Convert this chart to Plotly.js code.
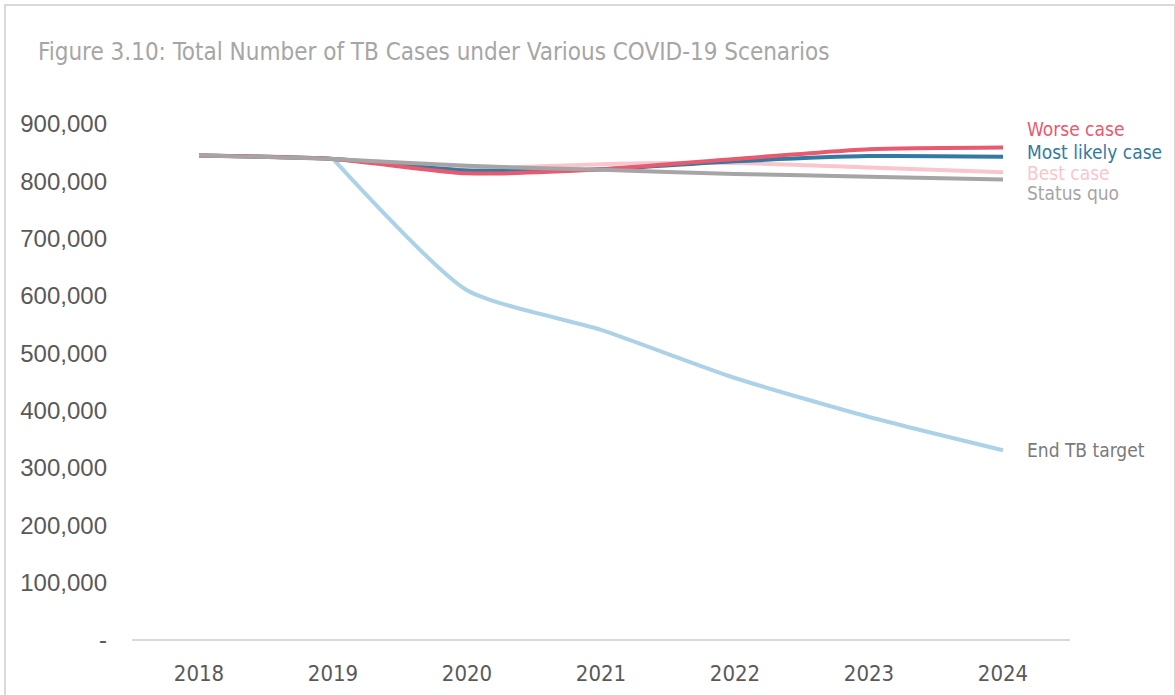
<!DOCTYPE html>
<html>
<head>
<meta charset="utf-8">
<script src="https://cdn.plot.ly/plotly-3.0.1.min.js"></script>
<style>
  html, body { margin: 0; padding: 0; background: #ffffff; overflow: hidden; }
  #chart { width: 1175px; height: 695px; }
  #frame { position: absolute; left: 4px; top: 4px; width: 1172px; height: 700px;
           border: 2px solid #d9d9d9; box-sizing: border-box; pointer-events: none; }
</style>
</head>
<body>
<div id="chart"></div>
<div id="frame"></div>
<script>
// ---- data ----
const years = ["2018", "2019", "2020", "2021", "2022", "2023", "2024"];
const endTB      = [null, 839000, 610000, 541000, 457000, 389000, 331000];
const bestCase   = [845000, 839000, 823000, 830000, 832000, 824000, 816000];
const likelyCase = [845000, 839000, 819000, 821000, 835000, 844000, 843000];
const worseCase  = [845000, 839000, 814000, 821000, 839000, 856000, 859000];
const statusQuo  = [845000, 839000, 827000, 820000, 813000, 808000, 803000];

const seriesNames = ["End TB target", "Best case", "Most likely case", "Worse case", "Status quo"];
const yTickVals  = [0, 100000, 200000, 300000, 400000, 500000, 600000, 700000, 800000, 900000];
const yTickText  = ["-", "100,000", "200,000", "300,000", "400,000", "500,000", "600,000", "700,000", "800,000", "900,000"];

// ---- styling ----
const colors = {
  "End TB target": "#acd2e7",
  "Best case": "#f9c6cd",
  "Most likely case": "#327aa2",
  "Worse case": "#e85a6f",
  "Status quo": "#a6a4a5"
};
const labelColors = {
  "End TB target": "#7a7a7a",
  "Best case": "#f9c6cd",
  "Most likely case": "#327aa2",
  "Worse case": "#e85a6f",
  "Status quo": "#a6a4a5"
};
// label y pixel offsets relative to the series' last value
const labelShift = {
  "Worse case": 19,
  "Most likely case": 5,
  "Best case": -1,
  "Status quo": -13,
  "End TB target": 0
};
const seriesData = {
  "End TB target": endTB,
  "Best case": bestCase,
  "Most likely case": likelyCase,
  "Worse case": worseCase,
  "Status quo": statusQuo
};

const condensed = "'DejaVu Sans Condensed', 'Liberation Sans Narrow', sans-serif";

const traces = seriesNames.map(n => ({
  type: "scatter",
  mode: "lines",
  name: n,
  x: years,
  y: seriesData[n],
  line: { color: colors[n], width: 4, shape: "spline", smoothing: 0.6 },
  hoverinfo: "skip"
}));

const lastIdx = years.length - 1;
const annotations = seriesNames.map(n => ({
  xref: "x", yref: "y",
  x: lastIdx,
  y: seriesData[n][lastIdx],
  xanchor: "left", yanchor: "middle",
  xshift: 22, yshift: labelShift[n],
  text: n,
  showarrow: false,
  font: { family: condensed, size: 19, color: labelColors[n] }
}));

const layout = {
  width: 1175, height: 695,
  paper_bgcolor: "#ffffff",
  plot_bgcolor: "#ffffff",
  showlegend: false,
  margin: { l: 132, r: 105, t: 124, b: 55 },
  title: {
    text: "Figure 3.10: Total Number of TB Cases under Various COVID-19 Scenarios",
    font: { family: condensed, size: 24, color: "#a6a6a6" },
    x: 38 / 1175, xref: "container", xanchor: "left",
    y: 1 - 52 / 695, yref: "container", yanchor: "middle"
  },
  xaxis: {
    type: "category",
    range: [-0.5, 6.5],
    showgrid: false,
    zeroline: false,
    showline: false,
    ticks: "",
    tickfont: { family: condensed, size: 22, color: "#595959" },
    ticklabelstandoff: 18
  },
  yaxis: {
    range: [0, 900000],
    tickvals: yTickVals,
    ticktext: yTickText,
    showgrid: false,
    zeroline: true,
    zerolinecolor: "#d9d9d9",
    zerolinewidth: 2,
    showline: false,
    ticks: "",
    tickfont: { family: "'Liberation Sans', Arial, sans-serif", size: 24, color: "#595959" },
    ticklabelstandoff: 24
  },
  annotations: annotations
};

Plotly.newPlot("chart", traces, layout, { staticPlot: true, displayModeBar: false });
</script>
</body>
</html>
